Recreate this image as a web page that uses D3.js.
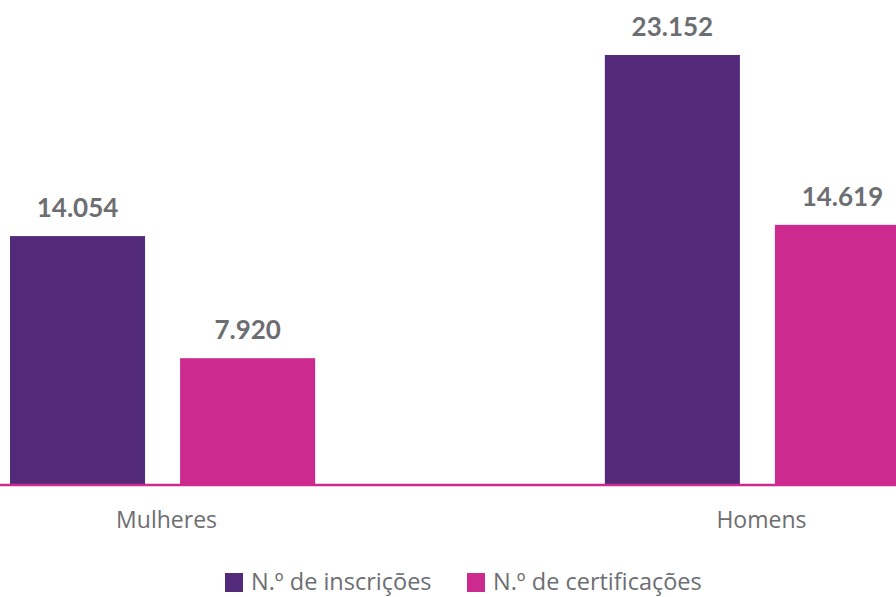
<!DOCTYPE html>
<html lang="pt">
<head>
    <meta charset="UTF-8" />
    <script src="https://cdn.jsdelivr.net/npm/d3@7"></script>
    <style>
        body { margin: 0; background: #fff; }
        svg { display: block; }
    </style>
</head>
<body>
    <div id="chart"></div>
    <script>
        // data
        var categories = ["Mulheres", "Homens"];
        var seriesNames = ["N.º de inscrições", "N.º de certificações"];
        var inscricoes = [14054, 23152];
        var certificacoes = [7920, 14619];
        var colors = ["#532a7a", "#cc2a8e"];

        var width = 896, height = 597;
        var baseY = 484;

        var svg = d3.select("#chart").append("svg")
            .attr("width", width)
            .attr("height", height);

        var rows = categories.map(function (c, i) {
            return { cat: c, values: [inscricoes[i], certificacoes[i]] };
        });

        var x0 = d3.scaleBand()
            .domain(categories)
            .range([10, 910])
            .paddingInner(0.487)
            .paddingOuter(0);

        var x1 = d3.scaleBand()
            .domain(d3.range(seriesNames.length))
            .range([0, x0.bandwidth()])
            .paddingInner(0.206);

        var y = d3.scaleLinear()
            .domain([1600, 23152])
            .range([baseY, 55]);

        var groups = svg.selectAll("g.grp")
            .data(rows)
            .enter().append("g")
            .attr("class", "grp")
            .attr("transform", function (d) { return "translate(" + x0(d.cat) + ",0)"; });

        groups.selectAll("rect")
            .data(function (d) { return d.values; })
            .enter().append("rect")
            .attr("x", function (d, i) { return x1(i); })
            .attr("y", function (d) { return y(d); })
            .attr("width", x1.bandwidth())
            .attr("height", function (d) { return baseY - y(d); })
            .attr("fill", function (d, i) { return colors[i]; });

        var fmt = function (v) { return d3.format(",")(v).replace(/,/g, "."); };

        groups.selectAll("text.val")
            .data(function (d) { return d.values; })
            .enter().append("text")
            .attr("class", "val")
            .attr("x", function (d, i) { return x1(i) + x1.bandwidth() / 2; })
            .attr("y", function (d) { return y(d) - 19; })
            .attr("text-anchor", "middle")
            .attr("font-family", "Lato, sans-serif")
            .attr("font-weight", "bold")
            .attr("font-size", 26)
            .attr("fill", "#6d6e71")
            .text(fmt);

        // baseline
        svg.append("line")
            .attr("x1", 0).attr("x2", width)
            .attr("y1", baseY + 1).attr("y2", baseY + 1)
            .attr("stroke", "#cc2a8e")
            .attr("stroke-width", 2.5);

        // category labels
        svg.selectAll("text.cat")
            .data(categories)
            .enter().append("text")
            .attr("class", "cat")
            .attr("x", function (d) { return x0(d) + x0.bandwidth() / 2 + 4; })
            .attr("y", 528)
            .attr("text-anchor", "middle")
            .attr("font-family", "'Open Sans', sans-serif")
            .attr("font-size", 23)
            .attr("fill", "#6d6e71")
            .text(function (d) { return d; });

        // legend
        var legendX = [225, 467];
        var legend = svg.selectAll("g.legend")
            .data(seriesNames)
            .enter().append("g")
            .attr("class", "legend")
            .attr("transform", function (d, i) { return "translate(" + legendX[i] + ",573)"; });

        legend.append("rect")
            .attr("width", 18)
            .attr("height", 19)
            .attr("fill", function (d, i) { return colors[i]; });

        legend.append("text")
            .attr("x", 26)
            .attr("y", 17)
            .attr("font-family", "'Open Sans', sans-serif")
            .attr("font-size", 23.5)
            .attr("fill", "#6d6e71")
            .text(function (d) { return d; });
    </script>
</body>
</html>
